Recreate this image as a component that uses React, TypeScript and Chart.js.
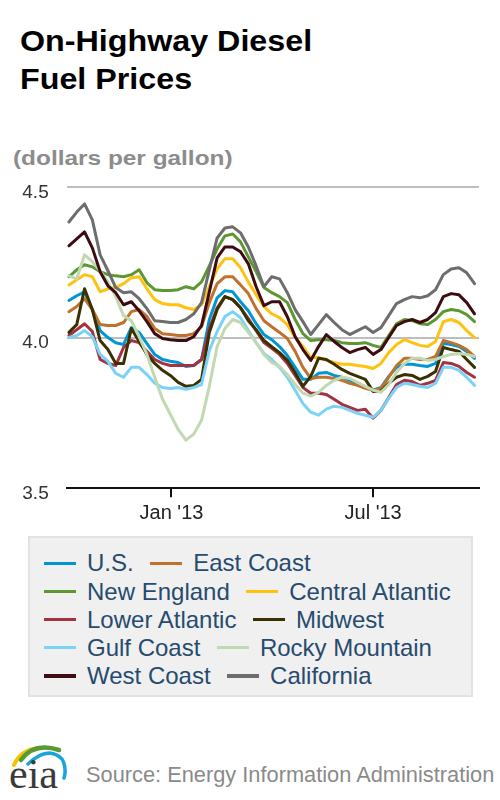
import React, { useEffect, useRef } from "react";
import { Chart, registerables } from "chart.js";

Chart.register(...registerables);

const FONT = '"Liberation Sans", Arial, Helvetica, sans-serif';

// Weekly (Monday) observation dates
const weekDates = [
  "2012-10-01", "2012-10-08", "2012-10-15", "2012-10-22", "2012-10-29",
  "2012-11-05", "2012-11-12", "2012-11-19", "2012-11-26",
  "2012-12-03", "2012-12-10", "2012-12-17", "2012-12-24", "2012-12-31",
  "2013-01-07", "2013-01-14", "2013-01-21", "2013-01-28",
  "2013-02-04", "2013-02-11", "2013-02-18", "2013-02-25",
  "2013-03-04", "2013-03-11", "2013-03-18", "2013-03-25",
  "2013-04-01", "2013-04-08", "2013-04-15", "2013-04-22", "2013-04-29",
  "2013-05-06", "2013-05-13", "2013-05-20", "2013-05-27",
  "2013-06-03", "2013-06-10", "2013-06-17", "2013-06-24",
  "2013-07-01", "2013-07-08", "2013-07-15", "2013-07-22", "2013-07-29",
  "2013-08-05", "2013-08-12", "2013-08-19", "2013-08-26",
  "2013-09-02", "2013-09-09", "2013-09-16", "2013-09-23", "2013-09-30",
];

const xRange = ["2012-09-29", "2013-10-04"];
const tickDates = ["2013-01-01", "2013-07-01"];
const tickLabels = ["Jan '13", "Jul '13"];
const yTicks = [3.5, 4.0, 4.5];

const seriesNames = [
  "U.S.", "East Coast", "New England", "Central Atlantic", "Lower Atlantic",
  "Midwest", "Gulf Coast", "Rocky Mountain", "West Coast", "California",
];
const seriesColors = [
  "#0096d6", "#c0712c", "#5d9732", "#ffc20e", "#a33340",
  "#3b3100", "#7ad2f7", "#c2d8b0", "#3d0c11", "#6d6d6d",
];

const usValues = [
  4.124, 4.140, 4.153, 4.094, 4.024, 4.001, 3.984, 3.978, 4.034, 4.018,
  3.981, 3.945, 3.928, 3.922, 3.918, 3.905, 3.908, 3.928, 4.061, 4.133,
  4.157, 4.153, 4.120, 4.090, 4.047, 4.011, 3.994, 3.971, 3.941, 3.902,
  3.862, 3.862, 3.882, 3.885, 3.875, 3.869, 3.859, 3.845, 3.835, 3.826,
  3.835, 3.872, 3.902, 3.912, 3.912, 3.908, 3.905, 3.915, 3.981, 3.978,
  3.971, 3.955, 3.932,
];
const eastCoastValues = [
  4.087, 4.104, 4.130, 4.094, 4.044, 4.041, 4.041, 4.051, 4.087, 4.094,
  4.071, 4.031, 4.014, 4.011, 4.008, 4.008, 4.014, 4.037, 4.117, 4.180,
  4.203, 4.203, 4.176, 4.147, 4.097, 4.057, 4.037, 4.018, 3.998, 3.955,
  3.902, 3.865, 3.869, 3.869, 3.865, 3.859, 3.849, 3.842, 3.832, 3.826,
  3.832, 3.869, 3.908, 3.932, 3.932, 3.928, 3.928, 3.938, 3.991, 3.984,
  3.975, 3.961, 3.938,
];
const newEnglandValues = [
  4.203, 4.226, 4.243, 4.236, 4.220, 4.210, 4.206, 4.203, 4.210, 4.226,
  4.183, 4.160, 4.157, 4.157, 4.160, 4.170, 4.163, 4.186, 4.239, 4.296,
  4.339, 4.345, 4.319, 4.269, 4.220, 4.167, 4.150, 4.137, 4.117, 4.061,
  4.014, 3.991, 3.994, 3.994, 3.991, 3.984, 3.981, 3.981, 3.984, 3.975,
  3.968, 4.008, 4.047, 4.061, 4.057, 4.047, 4.044, 4.061, 4.087, 4.094,
  4.090, 4.077, 4.054,
];
const centralAtlanticValues = [
  4.176, 4.193, 4.210, 4.203, 4.153, 4.163, 4.167, 4.180, 4.200, 4.203,
  4.163, 4.127, 4.114, 4.110, 4.110, 4.100, 4.094, 4.110, 4.170, 4.229,
  4.263, 4.263, 4.233, 4.186, 4.143, 4.104, 4.080, 4.067, 4.044, 4.001,
  3.971, 3.935, 3.935, 3.925, 3.918, 3.912, 3.912, 3.908, 3.905, 3.898,
  3.915, 3.951, 3.978, 3.994, 3.984, 3.975, 3.971, 3.988, 4.054, 4.061,
  4.051, 4.024, 4.001,
];
const lowerAtlanticValues = [
  4.008, 4.027, 4.047, 4.021, 3.928, 3.915, 3.908, 3.968, 3.991, 3.984,
  3.955, 3.928, 3.915, 3.908, 3.908, 3.908, 3.908, 3.928, 4.031, 4.100,
  4.137, 4.127, 4.100, 4.064, 4.024, 3.984, 3.965, 3.945, 3.915, 3.875,
  3.835, 3.816, 3.816, 3.812, 3.796, 3.779, 3.769, 3.759, 3.763, 3.733,
  3.759, 3.802, 3.845, 3.859, 3.855, 3.842, 3.849, 3.859, 3.918, 3.915,
  3.905, 3.885, 3.869,
];
const midwestValues = [
  4.018, 4.044, 4.163, 4.094, 3.991, 3.961, 3.915, 3.915, 4.031, 3.988,
  3.945, 3.915, 3.892, 3.875, 3.852, 3.839, 3.842, 3.862, 4.018, 4.094,
  4.137, 4.127, 4.100, 4.057, 4.027, 3.991, 3.971, 3.951, 3.925, 3.885,
  3.839, 3.872, 3.932, 3.928, 3.912, 3.895, 3.882, 3.872, 3.862, 3.822,
  3.822, 3.849, 3.869, 3.878, 3.875, 3.862, 3.872, 3.888, 3.968, 3.961,
  3.955, 3.928, 3.902,
];
const gulfCoastValues = [
  4.001, 4.008, 4.024, 4.004, 3.945, 3.922, 3.882, 3.869, 3.902, 3.902,
  3.878, 3.849, 3.835, 3.832, 3.835, 3.829, 3.835, 3.845, 3.958, 4.021,
  4.071, 4.087, 4.067, 4.024, 3.984, 3.948, 3.928, 3.902, 3.869, 3.826,
  3.782, 3.753, 3.743, 3.763, 3.773, 3.769, 3.759, 3.749, 3.743, 3.736,
  3.759, 3.799, 3.835, 3.849, 3.845, 3.839, 3.835, 3.849, 3.902, 3.902,
  3.892, 3.869, 3.842,
];
const rockyMountainValues = [
  4.206, 4.196, 4.276, 4.253, 4.223, 4.186, 4.137, 4.074, 4.057, 4.004,
  3.945, 3.869, 3.796, 3.746, 3.696, 3.660, 3.680, 3.726, 3.839, 3.971,
  4.031, 4.061, 4.051, 4.018, 3.984, 3.945, 3.918, 3.905, 3.878, 3.845,
  3.816, 3.806, 3.819, 3.842, 3.859, 3.869, 3.865, 3.852, 3.839, 3.826,
  3.819, 3.845, 3.885, 3.915, 3.932, 3.932, 3.925, 3.928, 3.938, 3.945,
  3.948, 3.945, 3.938,
];
const westCoastValues = [
  4.306, 4.329, 4.352, 4.299, 4.220, 4.173, 4.150, 4.110, 4.120, 4.090,
  4.054, 4.014, 3.998, 3.994, 3.991, 3.991, 4.004, 4.041, 4.153, 4.266,
  4.302, 4.302, 4.286, 4.246, 4.170, 4.107, 4.120, 4.120, 4.070, 4.004,
  3.961, 3.925, 3.971, 4.011, 3.988, 3.968, 3.951, 3.961, 3.968, 3.945,
  3.961, 4.001, 4.041, 4.054, 4.061, 4.051, 4.061, 4.084, 4.137, 4.147,
  4.143, 4.117, 4.080,
];
const californiaValues = [
  4.385, 4.418, 4.445, 4.392, 4.276, 4.223, 4.167, 4.150, 4.153, 4.130,
  4.097, 4.057, 4.054, 4.051, 4.051, 4.061, 4.080, 4.117, 4.226, 4.332,
  4.365, 4.369, 4.349, 4.302, 4.239, 4.170, 4.203, 4.196, 4.150, 4.094,
  4.054, 4.011, 4.044, 4.077, 4.051, 4.027, 4.011, 4.024, 4.037, 4.018,
  4.034, 4.074, 4.114, 4.127, 4.137, 4.133, 4.140, 4.160, 4.210, 4.229,
  4.233, 4.216, 4.180,
];

const seriesValues = [
  usValues, eastCoastValues, newEnglandValues, centralAtlanticValues,
  lowerAtlanticValues, midwestValues, gulfCoastValues, rockyMountainValues,
  westCoastValues, californiaValues,
];

const dayNum = (d: string) => Date.parse(d + "T00:00:00Z") / 86400000;

function ChartCanvas() {
  const ref = useRef<HTMLCanvasElement>(null);
  useEffect(() => {
    const canvas = ref.current;
    if (!canvas) return;
    const xs = weekDates.map(dayNum);
    const tickNums = tickDates.map(dayNum);
    const chart = new Chart(canvas, {
      type: "line",
      data: {
        datasets: seriesNames.map((name, i) => ({
          label: name,
          data: seriesValues[i].map((v, j) => ({ x: xs[j], y: v })),
          borderColor: seriesColors[i],
          backgroundColor: seriesColors[i],
          borderWidth: 3,
          pointRadius: 0,
          pointHoverRadius: 0,
          tension: 0,
          fill: false,
          borderJoinStyle: "round",
          borderCapStyle: "round",
          order: seriesNames.length - 1 - i,
        })),
      },
      options: {
        animation: false,
        responsive: false,
        events: [],
        layout: { padding: { top: 16.7, right: 21, left: 0, bottom: 0 } },
        plugins: {
          legend: { display: false },
          tooltip: { enabled: false },
          title: { display: false },
        },
        scales: {
          x: {
            type: "linear",
            min: dayNum(xRange[0]),
            max: dayNum(xRange[1]),
            afterBuildTicks: (scale: any) => {
              scale.ticks = tickNums.map((v) => ({ value: v }));
            },
            afterFit: (scale: any) => {
              scale.height = 41.7;
            },
            ticks: {
              autoSkip: false,
              maxRotation: 0,
              padding: 4,
              color: "#222",
              font: { family: FONT, size: 20 },
              callback: (v: any) => {
                const k = tickNums.indexOf(Number(v));
                return k >= 0 ? tickLabels[k] : "";
              },
            },
            grid: {
              drawOnChartArea: false,
              drawTicks: true,
              tickLength: 9,
              color: "#111",
              lineWidth: 2,
            },
            border: { display: true, color: "#111", width: 2 },
          },
          y: {
            type: "linear",
            min: 3.5,
            max: 4.5,
            afterBuildTicks: (scale: any) => {
              scale.ticks = yTicks.map((v) => ({ value: v }));
            },
            afterFit: (scale: any) => {
              scale.width = 66.7;
            },
            ticks: {
              padding: 18,
              labelOffset: 5,
              color: "#333",
              font: { family: FONT, size: 19 },
              callback: (v: any) => Number(v).toFixed(1),
            },
            grid: { color: "#bdbdbd", lineWidth: 2, drawTicks: false },
            border: { display: false },
          },
        },
      },
    } as any);
    return () => chart.destroy();
  }, []);
  return (
    <canvas
      ref={ref}
      width={500}
      height={372}
      style={{ position: "absolute", left: 0, top: 158, width: 500, height: 372 }}
    />
  );
}

function Legend() {
  const rows: number[][] = [];
  for (let i = 0; i < seriesNames.length; i += 2) rows.push([i, i + 1]);
  return (
    <div
      style={{
        position: "absolute",
        left: 28,
        top: 536,
        width: 445,
        height: 161,
        boxSizing: "border-box",
        border: "2px solid #e2e2e2",
        background: "#f0f0f0",
        paddingTop: 11.4,
        paddingLeft: 14,
      }}
    >
      {rows.map((row, r) => (
        <div
          key={r}
          style={{ display: "flex", alignItems: "center", height: 28.1, columnGap: 16.5 }}
        >
          {row.map((idx) => (
            <div key={idx} style={{ display: "flex", alignItems: "center" }}>
              <div
                style={{
                  width: 32,
                  height: 3.5,
                  background: seriesColors[idx],
                  marginRight: 11,
                }}
              />
              <span
                style={{
                  fontFamily: FONT,
                  fontSize: 24,
                  lineHeight: "28px",
                  color: "#274b6e",
                  whiteSpace: "nowrap",
                }}
              >
                {seriesNames[idx]}
              </span>
            </div>
          ))}
        </div>
      ))}
    </div>
  );
}

function EiaLogo() {
  return (
    <svg
      width={80}
      height={70}
      viewBox="0 0 80 70"
      style={{ position: "absolute", left: 0, top: 730 }}
    >
      <path d="M14 35 Q21 19 40 18" stroke="#f5c400" strokeWidth={4} fill="none" strokeLinecap="round" />
      <path d="M21 30 Q34 12 59 20" stroke="#5a9a35" strokeWidth={4.5} fill="none" strokeLinecap="round" />
      <path d="M28 34 Q48 15 62 29 Q67 38 64 48" stroke="#1ba3dc" strokeWidth={3.5} fill="none" strokeLinecap="round" />
      <text
        x={9}
        y={57.5}
        fontFamily='"Liberation Serif", "DejaVu Serif", serif'
        fontSize={42}
        fill="#3a3a3a"
      >
        eia
      </text>
    </svg>
  );
}

export default function App() {
  return (
    <div
      style={{
        position: "absolute",
        left: 0,
        top: 0,
        width: 500,
        height: 800,
        background: "#fff",
        fontFamily: FONT,
        overflow: "hidden",
      }}
    >
      <div
        style={{
          position: "absolute",
          left: 20,
          top: 22.3,
          fontSize: 30,
          lineHeight: "38px",
          fontWeight: "bold",
          color: "#000",
          whiteSpace: "nowrap",
          transform: "scaleX(1.075)",
          transformOrigin: "left top",
        }}
      >
        On-Highway Diesel
        <br />
        Fuel Prices
      </div>
      <div
        style={{
          position: "absolute",
          left: 13,
          top: 147.6,
          fontSize: 20.5,
          lineHeight: "20.5px",
          fontWeight: "bold",
          color: "#8c8c8c",
          whiteSpace: "nowrap",
          transform: "scaleX(1.19)",
          transformOrigin: "left top",
        }}
      >
        (dollars per gallon)
      </div>
      <ChartCanvas />
      <Legend />
      <EiaLogo />
      <div
        style={{
          position: "absolute",
          left: 86,
          top: 763.5,
          fontSize: 21.8,
          lineHeight: "21.8px",
          color: "#8a8a8a",
          whiteSpace: "nowrap",
        }}
      >
        Source: Energy Information Administration
      </div>
    </div>
  );
}
